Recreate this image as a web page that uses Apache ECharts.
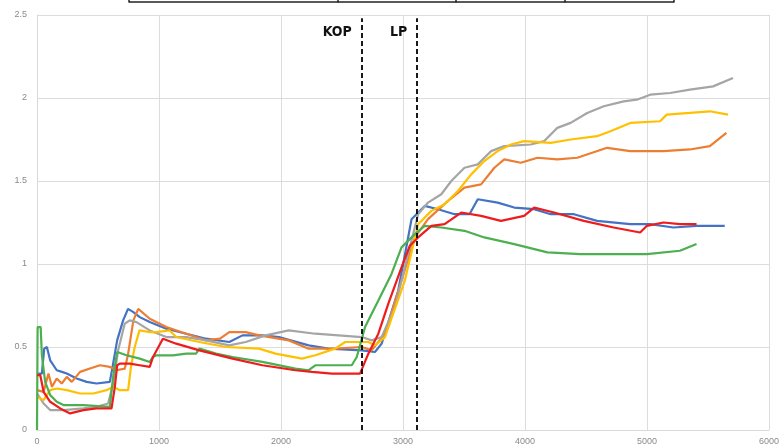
<!DOCTYPE html>
<html>
<head>
<meta charset="utf-8">
<script src="https://cdn.jsdelivr.net/npm/echarts@6/dist/echarts.min.js"></script>
<style>
  html, body { margin: 0; padding: 0; background: #fff; }
  #chart { width: 782px; height: 447px; }
</style>
</head>
<body>
<div id="chart"></div>
<script>
// depth-ish values, [x, y] pairs
var blue = [[0,0.34],[40,0.34],[59,0.49],[81,0.50],[108,0.42],[162,0.36],[204,0.35],[244,0.34],[325,0.31],[407,0.29],[488,0.28],[597,0.29],[624,0.40],[657,0.54],[706,0.66],[746,0.73],[790,0.71],[842,0.68],[924,0.65],[1060,0.61],[1223,0.58],[1386,0.55],[1576,0.53],[1684,0.57],[1847,0.57],[1983,0.56],[2227,0.51],[2390,0.49],[2662,0.48],[2770,0.47],[2825,0.52],[2961,0.84],[3070,1.27],[3178,1.35],[3287,1.33],[3423,1.30],[3545,1.30],[3613,1.39],[3776,1.37],[3912,1.34],[4075,1.33],[4211,1.30],[4401,1.30],[4591,1.26],[4863,1.24],[5026,1.24],[5216,1.22],[5406,1.23],[5637,1.23]];
var orange = [[0,0.24],[54,0.23],[94,0.34],[122,0.26],[162,0.31],[203,0.28],[244,0.32],[285,0.29],[353,0.35],[434,0.37],[516,0.39],[597,0.38],[651,0.36],[720,0.37],[745,0.45],[790,0.66],[830,0.73],[924,0.67],[1060,0.62],[1223,0.58],[1386,0.54],[1500,0.55],[1576,0.59],[1711,0.59],[1820,0.57],[2064,0.54],[2227,0.49],[2444,0.49],[2662,0.50],[2743,0.48],[2852,0.58],[2988,0.90],[3097,1.16],[3205,1.27],[3369,1.38],[3504,1.46],[3640,1.48],[3749,1.58],[3830,1.63],[3966,1.61],[4102,1.64],[4265,1.63],[4428,1.64],[4673,1.70],[4863,1.68],[5135,1.68],[5352,1.69],[5515,1.71],[5651,1.79]];
var gray = [[0,0.22],[54,0.16],[108,0.12],[217,0.12],[380,0.13],[488,0.14],[583,0.16],[624,0.28],[665,0.48],[719,0.64],[760,0.66],[815,0.65],[924,0.60],[1060,0.56],[1223,0.56],[1386,0.54],[1575,0.51],[1711,0.53],[1874,0.57],[2064,0.60],[2281,0.58],[2662,0.56],[2743,0.54],[2825,0.56],[2934,0.74],[3042,1.06],[3124,1.30],[3205,1.37],[3314,1.42],[3396,1.50],[3504,1.58],[3613,1.60],[3722,1.68],[3830,1.71],[4048,1.72],[4156,1.74],[4265,1.82],[4374,1.85],[4510,1.91],[4646,1.95],[4809,1.98],[4917,1.99],[5026,2.02],[5189,2.03],[5352,2.05],[5542,2.07],[5705,2.12]];
var yellow = [[0,0.20],[54,0.18],[108,0.24],[163,0.25],[245,0.24],[353,0.22],[462,0.22],[570,0.24],[624,0.26],[679,0.24],[747,0.24],[770,0.38],[801,0.50],[840,0.60],[924,0.59],[978,0.59],[1087,0.60],[1141,0.56],[1331,0.53],[1549,0.50],[1820,0.49],[1955,0.46],[2173,0.43],[2281,0.45],[2444,0.49],[2526,0.53],[2716,0.53],[2770,0.51],[2852,0.56],[3015,0.90],[3124,1.24],[3233,1.32],[3341,1.36],[3450,1.44],[3559,1.54],[3667,1.62],[3776,1.68],[3885,1.72],[3993,1.74],[4211,1.73],[4374,1.75],[4591,1.77],[4700,1.80],[4863,1.85],[5107,1.86],[5162,1.90],[5352,1.91],[5515,1.92],[5664,1.90]];
var green = [[0,0],[5,0.62],[30,0.62],[40,0.45],[67,0.29],[108,0.21],[162,0.17],[217,0.15],[380,0.15],[597,0.14],[624,0.32],[657,0.47],[733,0.45],[842,0.43],[924,0.41],[951,0.44],[978,0.45],[1114,0.45],[1223,0.46],[1304,0.46],[1331,0.49],[1467,0.46],[1603,0.44],[1847,0.41],[2118,0.37],[2227,0.36],[2281,0.39],[2580,0.39],[2621,0.44],[2689,0.62],[2798,0.78],[2906,0.94],[2988,1.10],[3097,1.18],[3178,1.23],[3314,1.22],[3504,1.20],[3667,1.16],[3912,1.12],[4184,1.07],[4455,1.06],[4727,1.06],[4999,1.06],[5270,1.08],[5406,1.12]];
var red = [[0,0.33],[27,0.33],[54,0.23],[108,0.17],[190,0.13],[271,0.10],[380,0.12],[488,0.13],[611,0.13],[638,0.26],[657,0.39],[679,0.40],[760,0.40],[842,0.39],[924,0.38],[951,0.44],[1032,0.55],[1141,0.52],[1331,0.48],[1603,0.43],[1847,0.39],[2118,0.36],[2254,0.35],[2417,0.34],[2648,0.34],[2716,0.46],[2798,0.58],[2879,0.76],[2988,0.98],[3056,1.11],[3124,1.16],[3233,1.23],[3341,1.24],[3477,1.31],[3640,1.29],[3803,1.26],[3993,1.29],[4075,1.34],[4238,1.31],[4482,1.26],[4727,1.22],[4944,1.19],[4999,1.23],[5135,1.25],[5270,1.24],[5406,1.24]];

var markers = [['KOP', 2662], ['LP', 3116]];

var chart = echarts.init(document.getElementById('chart'));

function line(data, color) {
  return {
    type: 'line',
    data: data,
    showSymbol: false,
    smooth: false,
    lineStyle: { color: color, width: 2.2 },
    itemStyle: { color: color },
    z: 3
  };
}

var series = [
  line(blue, '#4472C4'),
  line(orange, '#ED7D31'),
  line(gray, '#A5A5A5'),
  line(yellow, '#FFC000'),
  line(green, '#4CAF50'),
  line(red, '#EE1C1C')
];

// dashed KOP / LP lines hang off the first series
series[0].markLine = {
  silent: true,
  symbol: 'none',
  label: { show: false },
  lineStyle: { color: '#000', type: [5, 3], width: 1.8 },
  data: markers.map(function (m) {
    return [{ coord: [m[1], 0] }, { coord: [m[1], 2.48] }];
  })
};

var labelFont = 'Liberation Sans Narrow, Liberation Sans, sans-serif';

var option = {
  animation: false,
  grid: { left: 37, right: 9, top: 15, bottom: 17 },
  xAxis: {
    type: 'value',
    min: 0, max: 6000, interval: 1000,
    axisLine: { show: true, lineStyle: { color: '#d9d9d9' } },
    axisTick: { show: false },
    axisLabel: { color: '#8a8a8a', fontSize: 9, margin: 7, fontFamily: labelFont,
      formatter: function (v) { return String(v); } },
    splitLine: { show: true, lineStyle: { color: '#dcdcdc' } }
  },
  yAxis: {
    type: 'value',
    min: 0, max: 2.5, interval: 0.5,
    axisLine: { show: true, lineStyle: { color: '#d9d9d9' } },
    axisTick: { show: false },
    axisLabel: { color: '#8a8a8a', fontSize: 9, margin: 10, fontFamily: labelFont },
    splitLine: { show: true, lineStyle: { color: '#dcdcdc' } }
  },
  series: series
};

chart.setOption(option);

// labels next to the dashed lines, and the cut-off table edge at the top
var graphics = markers.map(function (m) {
  var p = chart.convertToPixel({ gridIndex: 0 }, [m[1], 2.5]);
  return {
    type: 'text',
    x: p[0] - 10,
    y: p[1] + 17,
    style: {
      text: m[0],
      align: 'right',
      verticalAlign: 'middle',
      fill: '#111',
      font: 'bold 14px "Liberation Sans Narrow", "DejaVu Sans Condensed", "Liberation Sans", sans-serif'
    }
  };
});

var tableCols = [129, 338, 456, 565, 674];
graphics.push({
  type: 'line',
  shape: { x1: tableCols[0], y1: 2, x2: tableCols[tableCols.length - 1], y2: 2 },
  style: { stroke: '#222', lineWidth: 1.5 }
});
tableCols.forEach(function (c) {
  graphics.push({
    type: 'line',
    shape: { x1: c, y1: 0, x2: c, y2: 2.5 },
    style: { stroke: '#222', lineWidth: 1.5 }
  });
});

chart.setOption({ graphic: graphics });
</script>
</body>
</html>
